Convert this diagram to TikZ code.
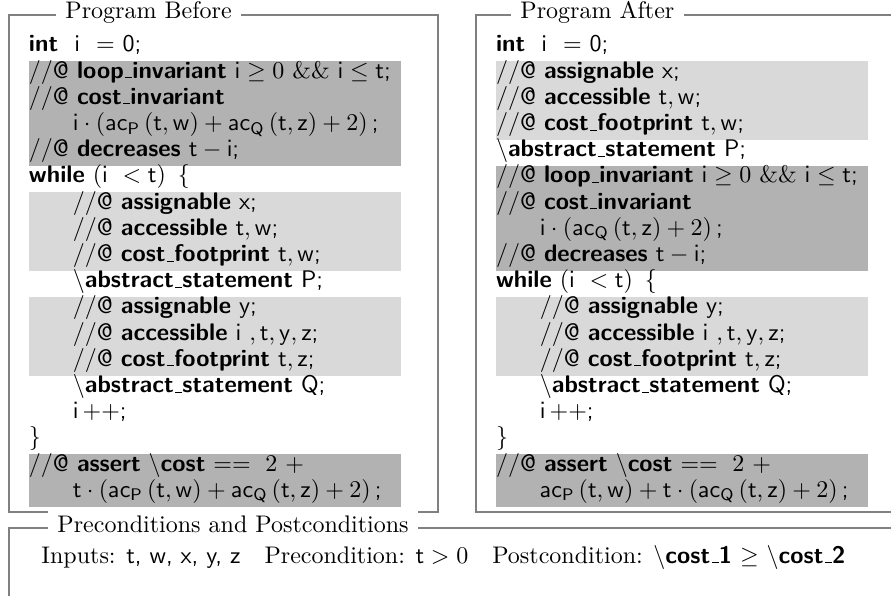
\documentclass[tikz,border=0pt]{standalone}

\newcommand{\us}{\kern.06em\vbox{\hrule width.3em}}
\newcommand{\annot}[1]{$//$@ \textbf{#1}}
\newcommand{\acost}[2]{\mathsf{ac}_{\mathsf{#1}}\left(#2\right)}
\newcommand{\codeindent}{\hspace*{18.3pt}}

\begin{document}
\begin{tikzpicture}[x=0.4167pt,y=0.4167pt]
\tikzstyle{boxframe}=[rectangle,draw=black!50,line width=0.6pt,inner sep=0pt]
\tikzstyle{frametitle}=[anchor=base west,fill=white,inner xsep=4pt,inner ysep=2pt,font=\rmfamily]
\tikzstyle{codeline}=[anchor=base west,inner xsep=0pt,inner ysep=0pt,outer sep=0pt,text width=155pt,align=left,text height=7.15pt,text depth=3.8pt,font=\sffamily]
\tikzstyle{darkline}=[codeline,fill=black!30]
\tikzstyle{lightline}=[codeline,fill=black!15]

\useasboundingbox (0,0) rectangle (891,595);
\clip (0,0) rectangle (891,595);

% frames
\node [boxframe,minimum width=178.75pt,minimum height=207.1pt] at (223.5,331.5) (beforeBox) {};
\node [boxframe,minimum width=178.75pt,minimum height=207.1pt] at (690.5,331.5) (afterBox) {};
\node [boxframe,minimum width=380pt,minimum height=45pt] at (465,13) (condBox) {};

\node [frametitle] at (55.4,576) (beforeTitle) {Program Before};
\node [frametitle] at (510.4,576) (afterTitle) {Program After};
\node [frametitle] at (47.4,63) (condTitle) {Preconditions and Postconditions};

% program before
\node [codeline] at (29,543) (before0) {\textbf{int}\ \ i\ \ $=$ 0;};
\node [darkline] at (29,516.8) (before1) {\annot{loop\us invariant} $\mathsf{i}\geq 0\ \&\&\ \mathsf{i}\leq\mathsf{t}$;};
\node [darkline] at (29,490.6) (before2) {\annot{cost\us invariant}};
\node [darkline] at (29,464.4) (before3) {\codeindent$\mathsf{i}\cdot\left(\acost{P}{\mathsf{t},\mathsf{w}}+\acost{Q}{\mathsf{t},\mathsf{z}}+2\right)$\,;};
\node [darkline] at (29,438.2) (before4) {\annot{decreases} $\mathsf{t}-\mathsf{i}$;};
\node [codeline] at (29,412) (before5) {\textbf{while} $\left(\mathsf{i}\ <\mathsf{t}\right)\ \{$};
\node [lightline] at (29,385.8) (before6) {\codeindent\annot{assignable} x;};
\node [lightline] at (29,359.6) (before7) {\codeindent\annot{accessible} $\mathsf{t},\mathsf{w}$;};
\node [lightline] at (29,333.4) (before8) {\codeindent\annot{cost\us footprint} $\mathsf{t},\mathsf{w}$;};
\node [codeline] at (29,307.2) (before9) {\codeindent$\backslash$\textbf{abstract\us statement} P;};
\node [lightline] at (29,281) (before10) {\codeindent\annot{assignable} y;};
\node [lightline] at (29,254.8) (before11) {\codeindent\annot{accessible} $\mathsf{i}\ ,\mathsf{t},\mathsf{y},\mathsf{z}$;};
\node [lightline] at (29,228.6) (before12) {\codeindent\annot{cost\us footprint} $\mathsf{t},\mathsf{z}$;};
\node [codeline] at (29,202.4) (before13) {\codeindent$\backslash$\textbf{abstract\us statement} Q;};
\node [codeline] at (29,176.2) (before14) {\codeindent$\mathsf{i}\,{+}{+}$;};
\node [codeline] at (29,150) (before15) {$\}$};
\node [darkline] at (29,123.8) (before16) {\annot{assert} $\backslash$\textbf{cost} $==\ 2\ +$};
\node [darkline] at (29,97.6) (before17) {\codeindent$\mathsf{t}\cdot\left(\acost{P}{\mathsf{t},\mathsf{w}}+\acost{Q}{\mathsf{t},\mathsf{z}}+2\right)$\,;};

% program after
\node [codeline] at (496,543) (after0) {\textbf{int}\ \ i\ \ $=$ 0;};
\node [lightline] at (496,516.8) (after1) {\annot{assignable} x;};
\node [lightline] at (496,490.6) (after2) {\annot{accessible} $\mathsf{t},\mathsf{w}$;};
\node [lightline] at (496,464.4) (after3) {\annot{cost\us footprint} $\mathsf{t},\mathsf{w}$;};
\node [codeline] at (496,438.2) (after4) {$\backslash$\textbf{abstract\us statement} P;};
\node [darkline] at (496,412) (after5) {\annot{loop\us invariant} $\mathsf{i}\geq 0\ \&\&\ \mathsf{i}\leq\mathsf{t}$;};
\node [darkline] at (496,385.8) (after6) {\annot{cost\us invariant}};
\node [darkline] at (496,359.6) (after7) {\codeindent$\mathsf{i}\cdot\left(\acost{Q}{\mathsf{t},\mathsf{z}}+2\right)$\,;};
\node [darkline] at (496,333.4) (after8) {\annot{decreases} $\mathsf{t}-\mathsf{i}$;};
\node [codeline] at (496,307.2) (after9) {\textbf{while} $\left(\mathsf{i}\ <\mathsf{t}\right)\ \{$};
\node [lightline] at (496,281) (after10) {\codeindent\annot{assignable} y;};
\node [lightline] at (496,254.8) (after11) {\codeindent\annot{accessible} $\mathsf{i}\ ,\mathsf{t},\mathsf{y},\mathsf{z}$;};
\node [lightline] at (496,228.6) (after12) {\codeindent\annot{cost\us footprint} $\mathsf{t},\mathsf{z}$;};
\node [codeline] at (496,202.4) (after13) {\codeindent$\backslash$\textbf{abstract\us statement} Q;};
\node [codeline] at (496,176.2) (after14) {\codeindent$\mathsf{i}\,{+}{+}$;};
\node [codeline] at (496,150) (after15) {$\}$};
\node [darkline] at (496,123.8) (after16) {\annot{assert} $\backslash$\textbf{cost} $==\ 2\ +$};
\node [darkline] at (496,97.6) (after17) {\codeindent$\acost{P}{\mathsf{t},\mathsf{w}}+\mathsf{t}\cdot\left(\acost{Q}{\mathsf{t},\mathsf{z}}+2\right)$\,;};

% conditions
\node [anchor=base west] at (33,32) (condText) {Inputs: \textsf{t, w, x, y, z}\quad Precondition: $\mathsf{t}>0$\quad Postcondition: $\backslash$\textsf{\textbf{cost\us 1}} $\geq$ $\backslash$\textsf{\textbf{cost\us 2}}};
\end{tikzpicture}
\end{document}
